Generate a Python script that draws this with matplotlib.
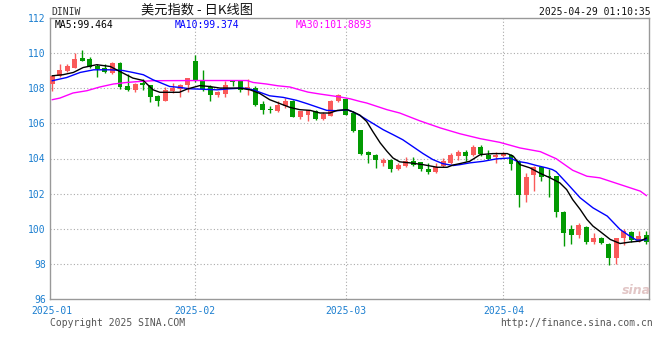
import matplotlib
matplotlib.use("Agg")
import matplotlib.pyplot as plt

plt.rcParams['font.family'] = ['DejaVu Sans Mono']

# daily candles (index 0 = first candle)
opens = [108.24, 108.67, 108.99, 109.18, 109.72, 109.68, 109.24, 109.15, 108.86, 109.43,
         108.14, 107.91, 108.30, 108.16, 107.57, 107.29, 107.86, 107.97, 108.16, 109.56,
         108.48, 108.05, 107.59, 107.69, 108.39, 108.39, 107.97, 108.01, 107.12, 106.82,
         106.72, 107.01, 107.25, 106.34, 106.49, 106.68, 106.27, 106.44, 107.25, 107.40,
         106.59, 105.60, 104.35, 104.22, 103.75, 103.94, 103.41, 103.60, 103.88, 103.78,
         103.43, 103.22, 103.56, 103.75, 104.13, 104.35, 104.18, 104.66, 104.22, 104.07,
         104.16, 104.22, 103.78, 101.91, 103.05, 103.50, 102.99, 102.99, 100.97, 100.00,
         99.64, 100.11, 99.24, 99.45, 99.16, 98.31, 99.45, 99.83, 99.34, 99.62]
highs = [108.77, 109.39, 109.39, 110.00, 110.19, 109.77, 109.37, 109.39, 109.49, 109.52,
         108.81, 108.30, 108.52, 108.20, 107.59, 108.05, 108.30, 108.26, 108.60, 109.90,
         109.05, 108.20, 107.84, 108.39, 108.43, 108.48, 108.54, 108.10, 107.25, 106.97,
         107.25, 107.44, 107.31, 106.72, 106.78, 106.78, 106.63, 107.35, 107.69, 107.44,
         106.68, 105.62, 104.41, 104.26, 104.03, 103.98, 103.75, 104.07, 104.09, 103.82,
         103.75, 103.75, 104.03, 104.32, 104.47, 104.51, 104.75, 104.75, 104.51, 104.38,
         104.38, 104.28, 103.94, 103.18, 103.60, 103.52, 103.41, 103.03, 101.00, 100.19,
         100.30, 100.15, 99.73, 99.52, 99.20, 99.49, 99.96, 99.90, 99.90, 99.86]
lows = [107.82, 108.64, 108.95, 109.15, 109.55, 109.15, 108.65, 108.86, 108.81, 107.95,
        107.86, 107.76, 107.91, 107.19, 106.97, 107.29, 107.73, 107.48, 107.78, 108.34,
        107.86, 107.25, 107.53, 107.53, 108.10, 107.76, 107.59, 107.00, 106.55, 106.59,
        106.65, 106.88, 106.34, 106.27, 106.11, 106.17, 106.17, 106.40, 107.22, 106.49,
        105.49, 104.22, 103.75, 103.47, 103.60, 103.24, 103.37, 103.52, 103.56, 103.27,
        103.14, 103.18, 103.52, 103.71, 103.90, 103.84, 104.13, 104.13, 103.90, 103.75,
        104.09, 103.33, 101.23, 101.51, 102.14, 102.70, 101.80, 100.66, 99.01, 99.16,
        99.49, 99.16, 99.16, 99.16, 97.93, 98.01, 99.07, 99.26, 99.26, 99.16]
closes = [108.67, 109.05, 109.24, 109.68, 109.58, 109.20, 109.11, 108.95, 109.43, 108.05,
          107.91, 108.26, 108.18, 107.48, 107.29, 107.91, 108.01, 108.20, 108.58, 108.43,
          107.97, 107.59, 107.76, 108.16, 108.33, 107.91, 108.05, 107.02, 106.78, 106.74,
          107.06, 107.25, 106.34, 106.68, 106.74, 106.27, 106.53, 107.29, 107.59, 106.49,
          105.55, 104.28, 104.18, 103.90, 103.90, 103.43, 103.61, 103.88, 103.65, 103.43,
          103.22, 103.50, 103.84, 104.22, 104.35, 104.16, 104.66, 104.26, 103.99, 104.18,
          104.26, 103.71, 101.91, 102.93, 103.50, 102.93, 102.93, 100.94, 99.77, 99.64,
          100.20, 99.24, 99.45, 99.20, 98.31, 99.45, 99.86, 99.34, 99.58, 99.26]

# moving averages (candle position, value)
ma5_x = [0, 1.4, 2.8, 4.1, 5.9, 7.7, 9.0, 10.7, 12.1, 13.4, 14.3, 16.9, 17.9, 19.6, 20.9,
         22.3, 24.9, 26.3, 27.6, 28.9, 30.3, 31.6, 32.9, 34.3, 35.6, 36.9, 37.9, 39.2, 40.0,
         40.9, 41.8, 42.6, 43.6, 44.5, 45.3, 46.2, 47.6, 49.3, 51.2, 52.5, 53.3, 54.2, 55.5,
         56.9, 58.6, 60.5, 61.3, 62.2, 63.5, 64.9, 66.2, 67.5, 68.4, 69.2, 70.2, 71.1, 71.9,
         72.8, 74.2, 75.5, 76.8, 78.2, 79]
ma5_v = [108.71, 108.77, 108.90, 109.18, 109.34, 109.24, 108.95, 108.58, 108.44, 107.91,
         107.77, 107.77, 107.95, 108.15, 108.10, 108.01, 108.01, 107.91, 107.70, 107.35,
         107.12, 106.91, 106.78, 106.74, 106.59, 106.59, 106.74, 106.78, 106.65, 106.47,
         106.11, 105.55, 104.89, 104.41, 104.03, 103.81, 103.75, 103.65, 103.50, 103.50,
         103.63, 103.71, 103.84, 104.22, 104.28, 104.28, 104.13, 103.65, 103.47, 103.15,
         102.90, 102.61, 102.23, 101.66, 101.10, 100.53, 100.15, 99.86, 99.39, 99.16,
         99.24, 99.30, 99.47]
ma10_x = [0, 1.9, 3.7, 5.5, 7.7, 9.4, 10.7, 12.1, 13.4, 14.3, 15.6, 16.9, 18.3, 19.6, 21.9,
          23.6, 25.4, 26.7, 27.6, 28.9, 30.7, 32.5, 33.9, 35.2, 36.5, 37.9, 39.2, 40.0, 40.9,
          44.0, 45.3, 46.6, 47.9, 49.3, 50.6, 51.9, 53.3, 54.2, 55.5, 57.3, 59.1, 60.9, 61.8,
          63.1, 64.4, 65.7, 66.5, 67.0, 68.4, 70.2, 71.9, 73.8, 75.5, 76.8, 77.7, 79]
ma10_v = [108.43, 108.61, 108.90, 109.05, 109.05, 109.01, 108.90, 108.77, 108.48, 108.33,
          108.10, 108.05, 107.97, 107.95, 107.91, 107.97, 108.01, 107.91, 107.77, 107.57,
          107.48, 107.31, 107.12, 106.93, 106.74, 106.72, 106.78, 106.65, 106.45, 105.64,
          105.36, 105.07, 104.69, 104.28, 103.94, 103.71, 103.60, 103.65, 103.75, 103.84,
          103.98, 104.03, 103.84, 103.75, 103.60, 103.47, 103.37, 103.25, 102.61, 101.76,
          101.19, 100.72, 99.96, 99.58, 99.35, 99.37]
ma30_x = [0, 1.0, 2.75, 4.6, 6.3, 8.1, 9.9, 11.7, 13.4, 19.6, 25.9, 26.7, 28.5, 30.0, 31.6,
          32.9, 34.0, 35.6, 36.9, 38.3, 39.6, 40.9, 41.8, 44.5, 46.2, 48.9, 51.6, 54.2, 56.9,
          59.5, 62.2, 64.9, 67.0, 69.2, 71.1, 72.8, 75.5, 78.2, 79]
ma30_v = [107.35, 107.44, 107.73, 107.86, 108.07, 108.24, 108.33, 108.39, 108.43, 108.44,
          108.44, 108.33, 108.24, 108.14, 108.07, 107.91, 107.78, 107.67, 107.59, 107.50,
          107.40, 107.25, 107.16, 106.78, 106.59, 106.14, 105.74, 105.41, 105.13, 104.92,
          104.60, 104.39, 103.99, 103.33, 102.99, 102.90, 102.52, 102.14, 101.89]

month_pos = [0, 19, 39, 60]
month_labels = ["2025-01", "2025-02", "2025-03", "2025-04"]
y_ticks = [96, 98, 100, 102, 104, 106, 108, 110, 112]

UP = "#fa5a5a"
DOWN = "#029a02"
LABEL_BLUE = "#1c7fd0"
GRID = "#aaaaaa"

W, H = 660, 360
fig = plt.figure(figsize=(W / 100, H / 100), dpi=100)
ax = fig.add_axes([50 / W, 1 - 299 / H, 599 / W, 281 / H])

# grid
for y in y_ticks[1:-1]:
    ax.axhline(y, color=GRID, lw=0.8, ls=(0, (1, 2)), zorder=0)
for m in month_pos[1:]:
    ax.axvline(m, color=GRID, lw=0.8, ls=(0, (1, 2)), zorder=0)

# candles
for i, (o, h, l, c) in enumerate(zip(opens, highs, lows, closes)):
    col = UP if c >= o else DOWN
    ax.vlines(i, l, h, color=col, lw=1, zorder=2)
    body = max(abs(c - o), 0.04)
    ax.bar(i, body, bottom=min(o, c), width=0.66, color=col, lw=0, zorder=3)

ax.plot(ma30_x, ma30_v, color="#ff00ff", lw=1.0, zorder=4)
ax.plot(ma10_x, ma10_v, color="#0000ff", lw=1.0, zorder=4)
ax.plot(ma5_x, ma5_v, color="#000000", lw=1.0, zorder=4)

ax.set_xlim(-0.31, 79.35)
ax.set_ylim(96, 112)
ax.set_yticks(y_ticks)
ax.set_yticklabels([str(v) for v in y_ticks])
ax.set_xticks(month_pos)
ax.set_xticklabels(month_labels)
ax.tick_params(length=0, labelsize=7, labelcolor=LABEL_BLUE)
ax.tick_params(axis="y", pad=3)
ax.tick_params(axis="x", pad=5)
for s in ax.spines.values():
    s.set_color("#999999")
    s.set_linewidth(1)

# header
fig.text(51 / W, 1 - 12 / H, "DINIW", fontsize=7, color="#333333", va="center")
fig.text(141 / W, 1 - 10 / H, "美元指数 - 日K线图", fontsize=9.5, color="#111111",
         va="center", family=["Noto Sans CJK SC", "DejaVu Sans"])
fig.text(651 / W, 1 - 12 / H, "2025-04-29 01:10:35", fontsize=7, color="#111111",
         va="center", ha="right")
fig.text(55 / W, 1 - 25 / H, "MA5:99.464", fontsize=7, color="#000000", va="center")
fig.text(175 / W, 1 - 25 / H, "MA10:99.374", fontsize=7, color="#0000ff", va="center")
fig.text(296 / W, 1 - 25 / H, "MA30:101.8893", fontsize=7, color="#ff00ff", va="center")

# watermark
fig.text(636 / W, 1 - 290 / H, "sina", fontsize=9, color="#e2c6c6", style="italic",
         weight="bold", ha="center", va="center", family="DejaVu Sans")

# footer
fig.text(50 / W, 1 - 323 / H, "Copyright 2025 SINA.COM", fontsize=7, color="#555555",
         va="center")
fig.text(653 / W, 1 - 323 / H, "http://finance.sina.com.cn", fontsize=7, color="#555555",
         va="center", ha="right")

fig.savefig("out.png", dpi=100)
